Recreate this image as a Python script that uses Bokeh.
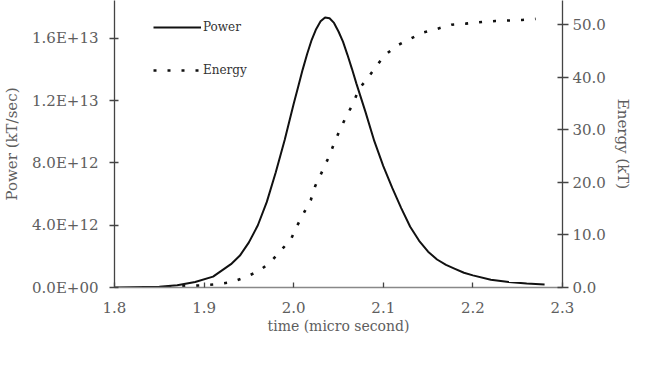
from bokeh.plotting import figure
from bokeh.models import Range1d, LinearAxis, FixedTicker, Legend, LegendItem
from bokeh.embed import file_html
from bokeh.resources import INLINE

# ---- data ----
time_power = [1.80, 1.85, 1.87, 1.89, 1.91, 1.93, 1.94, 1.95, 1.96, 1.97, 1.98, 1.99,
              2.00, 2.005, 2.01, 2.015, 2.02, 2.025, 2.03, 2.035, 2.04, 2.045, 2.05,
              2.055, 2.06, 2.065, 2.07, 2.08, 2.09, 2.10, 2.11, 2.12, 2.13, 2.14,
              2.15, 2.16, 2.17, 2.18, 2.19, 2.20, 2.22, 2.24, 2.26, 2.28]
power = [0.0, 0.05, 0.15, 0.35, 0.7, 1.5, 2.05, 2.9, 4.0, 5.5, 7.4, 9.5,
         11.8, 12.9, 14.0, 15.0, 15.9, 16.6, 17.1, 17.35, 17.3, 17.0, 16.45,
         15.8, 14.95, 14.05, 13.1, 11.3, 9.4, 7.8, 6.4, 5.1, 3.9, 3.0,
         2.3, 1.8, 1.45, 1.2, 0.95, 0.78, 0.5, 0.35, 0.25, 0.2]
power = [v * 1e12 for v in power]

time_energy = [1.86, 1.897, 1.913, 1.93, 1.945, 1.961, 1.974, 1.985, 1.997, 2.004, 2.011,
               2.019, 2.024, 2.031, 2.038, 2.044, 2.051, 2.058, 2.066, 2.073, 2.082,
               2.091, 2.101, 2.115, 2.13, 2.144, 2.16, 2.176, 2.192, 2.21, 2.225, 2.24,
               2.255, 2.27]
energy = [0.1, 0.4, 0.6, 1.0, 1.9, 3.1, 4.8, 6.9, 9.2, 11.8, 14.1,
          16.6, 19.3, 21.8, 24.4, 26.9, 29.8, 32.3, 34.9, 37.8, 39.7,
          41.8, 44.1, 46.0, 47.3, 48.5, 49.2, 50.0, 50.2, 50.5, 50.7, 50.8,
          50.9, 51.1]

x_ticks = [1.8, 1.9, 2.0, 2.1, 2.2, 2.3]
x_tick_labels = ["1.8", "1.9", "2.0", "2.1", "2.2", "2.3"]
p_ticks = [0, 4e12, 8e12, 1.2e13, 1.6e13]
p_tick_labels = ["0.0E+00", "4.0E+12", "8.0E+12", "1.2E+13", "1.6E+13"]
e_ticks = [0, 10, 20, 30, 40, 50]
e_tick_labels = ["0.0", "10.0", "20.0", "30.0", "40.0", "50.0"]

FONT = "DejaVu Serif"
TICK_COLOR = "#5e5e5e"
AXIS_COLOR = "#444444"

p = figure(width=634, height=349, output_backend="svg", toolbar_location=None,
           x_range=Range1d(1.8, 2.3), y_range=Range1d(0, 1.844e13),
           min_border_left=113, min_border_right=64, min_border_top=0,
           min_border_bottom=62)
p.outline_line_color = None
p.grid.visible = False
p.background_fill_color = "white"
p.border_fill_color = "white"

p.extra_y_ranges = {"energy": Range1d(0, 54.6)}

r_power = p.line(time_power, power, line_color="#111111", line_width=2)
r_energy = p.line(time_energy, energy, line_color="#111111", line_width=2.6,
                  line_dash="3 11", y_range_name="energy")

def style(ax, ticks, labels):
    ax.ticker = FixedTicker(ticks=ticks)
    ax.major_label_overrides = {t: l for t, l in zip(ticks, labels)}
    ax.minor_tick_line_color = None
    ax.axis_line_color = AXIS_COLOR
    ax.axis_line_width = 1.3
    ax.major_tick_line_color = AXIS_COLOR
    ax.major_tick_line_width = 1.3
    ax.major_label_text_font = FONT
    ax.major_label_text_font_size = "15px"
    ax.major_label_text_color = TICK_COLOR
    ax.axis_label_text_font = FONT
    ax.axis_label_text_font_size = "14px"
    ax.axis_label_text_font_style = "normal"
    ax.axis_label_text_color = TICK_COLOR

xa = p.xaxis[0]
style(xa, x_ticks, x_tick_labels)
xa.axis_label = "time (micro second)"
xa.axis_line_color = "#888888"
xa.major_tick_in = 5
xa.major_tick_out = 0
xa.major_label_standoff = 14
xa.axis_label_standoff = 2

ya = p.yaxis[0]
style(ya, p_ticks, p_tick_labels)
ya.axis_label = "Power (kT/sec)"
ya.axis_label_text_font_size = "15px"
ya.major_tick_in = 4
ya.major_tick_out = 5
ya.major_label_standoff = 11
ya.axis_label_standoff = 8

ra = LinearAxis(y_range_name="energy")
style(ra, e_ticks, e_tick_labels)
ra.axis_label = "Energy (kT)"
ra.axis_label_text_font_size = "15px"
ra.major_tick_in = 5
ra.major_tick_out = 6
ra.major_label_standoff = 4
ra.axis_label_standoff = 5
p.add_layout(ra, "right")

legend = Legend(items=[LegendItem(label="Power", renderers=[r_power]),
                       LegendItem(label="Energy", renderers=[r_energy])],
                location=(39, 207), orientation="vertical",
                glyph_width=48, glyph_height=20, label_height=20,
                spacing=23, padding=0, margin=0, label_standoff=2,
                border_line_color=None, background_fill_alpha=0,
                label_text_font=FONT, label_text_font_size="12px",
                label_text_color="#333333")
p.add_layout(legend)

open("out.html", "w").write(file_html(p, INLINE))
